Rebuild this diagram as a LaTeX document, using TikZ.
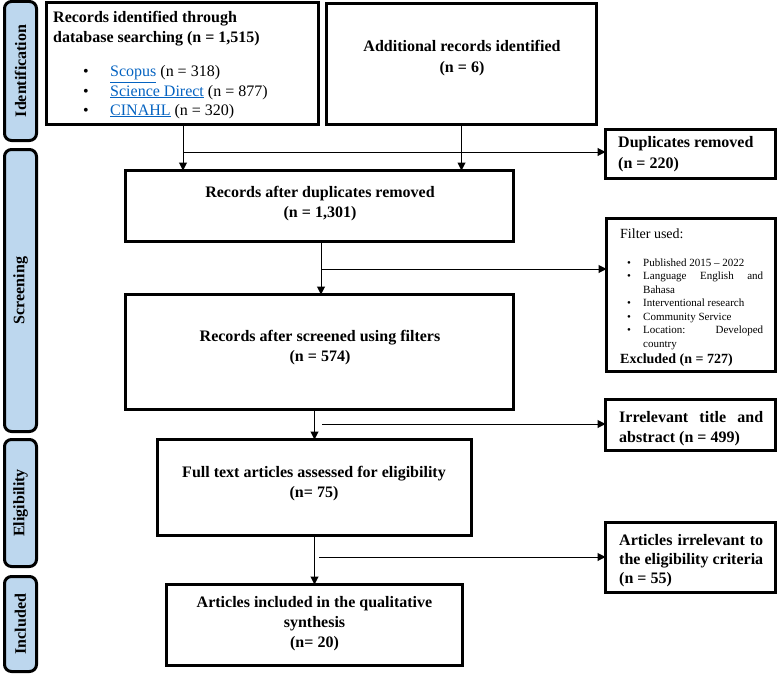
\documentclass[tikz,border=0pt]{standalone}
\usepackage{fontspec}
\setmainfont{Liberation Serif}
\usetikzlibrary{arrows.meta,fit}
\definecolor{sidebl}{RGB}{189,215,238}
\definecolor{linkbl}{RGB}{5,99,193}
\begin{document}
\begin{tikzpicture}[x=1pt,y=-1pt,
  box/.style={draw,line width=3pt,inner sep=0pt,outer sep=0pt,rectangle},
  side/.style={draw,line width=3pt,fill=sidebl,rounded corners=7pt,inner sep=0pt,outer sep=0pt},
  sidetxt/.style={rotate=90,font=\fontsize{16}{20}\selectfont\bfseries,inner sep=0pt},
  arr/.style={line width=1pt,-{Triangle[length=8pt,width=8pt]}},
  bc/.style={font=\fontsize{16}{20}\selectfont\bfseries,inner sep=0pt,anchor=base},
  bl/.style={font=\fontsize{16}{20}\selectfont\bfseries,inner sep=0pt,anchor=base west},
  rl/.style={font=\fontsize{16}{20}\selectfont,inner sep=0pt,anchor=base west},
  rb/.style={font=\fontsize{16}{20}\selectfont,inner sep=0pt,anchor=base},
  sl/.style={font=\fontsize{11}{13}\selectfont,inner sep=0pt,anchor=base west},
  sb/.style={font=\fontsize{11}{13}\selectfont,inner sep=0pt,anchor=base},
]
\useasboundingbox (0,0) rectangle (778,674);

% side labels
\node[side,fit={(4.5,1.5)(36.5,140.5)}] (sid) {};
\node[side,fit={(4.5,149.5)(36.5,431.5)}] (sscr) {};
\node[side,fit={(4.5,439.5)(36.5,566.5)}] (self) {};
\node[side,fit={(4.5,576.5)(36.5,671.5)}] (sinc) {};
\node[sidetxt] (lid) at (sid.center) {Identification};
\node[sidetxt] (lscr) at (sscr.center) {Screening};
\node[sidetxt] (lelf) at (self.center) {Eligibility};
\node[sidetxt] (linc) at (sinc.center) {Included};

% boxes
\node[box,fit={(46.5,2.5)(318.5,124.5)}] (b1) {};
\node[box,fit={(326.5,3.5)(596.5,124.5)}] (b2) {};
\node[box,fit={(605.5,129.5)(775.5,178.5)}] (dup) {};
\node[box,fit={(125.5,170.5)(513.5,241.5)}] (b3) {};
\node[box,fit={(606.5,218.5)(775.5,371.5)}] (filt) {};
\node[box,fit={(125.5,294.5)(513.5,409.5)}] (b4) {};
\node[box,fit={(605.5,399.5)(775.5,450.5)}] (irr) {};
\node[box,fit={(157.5,439.5)(471.5,535.5)}] (b5) {};
\node[box,fit={(605.5,522.5)(775.5,592.5)}] (art) {};
\node[box,fit={(166.5,584.5)(462.5,665.5)}] (b6) {};

% box 1 text
\node[bl] (t11) at (53,23) {Records identified through};
\node[bl] (t12) at (53,43) {database searching (n = 1,515)};
\node[rb] (t13b) at (86,77) {•};
\node[rl] (t13) at (110,77) {{\color{linkbl}\underline{Scopus}} (n = 318)};
\node[rb] (t14b) at (86,96) {•};
\node[rl] (t14) at (110,96) {{\color{linkbl}\underline{Science Direct}} (n = 877)};
\node[rb] (t15b) at (86,115) {•};
\node[rl] (t15) at (110,115) {{\color{linkbl}\underline{CINAHL}} (n = 320)};

% box 2 text
\node[bc] (t21) at (462,52) {Additional records identified};
\node[bc] (t22) at (462,73) {(n = 6)};

% duplicates
\node[bl] (td1) at (618,147) {Duplicates removed};
\node[bl] (td2) at (618,168) {(n = 220)};

% box 3
\node[bc] (t31) at (320,197) {Records after duplicates removed};
\node[bc] (t32) at (320,217) {(n = 1,301)};

% filter box
\node[font=\fontsize{14}{16}\selectfont,inner sep=0pt,anchor=base west] (f0) at (620,238) {Filter used:};
\node[sb] (f1b) at (629,266) {•};
\node[sl] (f1) at (643,266) {Published 2015 – 2022};
\node[sb] (f2b) at (629,279.5) {•};
\node[sl] (f2) at (643,279.5) {\makebox[120pt][s]{Language English and}};
\node[sl] (f3) at (643,293) {Bahasa};
\node[sb] (f4b) at (629,306.5) {•};
\node[sl] (f4) at (643,306.5) {Interventional research};
\node[sb] (f5b) at (629,320) {•};
\node[sl] (f5) at (643,320) {Community Service};
\node[sb] (f6b) at (629,333.5) {•};
\node[sl] (f6) at (643,333.5) {\makebox[120pt][s]{Location: Developed}};
\node[sl] (f7) at (643,347) {country};
\node[font=\fontsize{14}{16}\selectfont\bfseries,inner sep=0pt,anchor=base west] (f8) at (620,363) {Excluded (n = 727)};

% box 4
\node[bc] (t41) at (320,341) {Records after screened using filters};
\node[bc] (t42) at (320,361) {(n = 574)};

% irrelevant title
\node[bl] (ti1) at (619,422) {\makebox[144pt][s]{Irrelevant title and}};
\node[bl] (ti2) at (619,442) {abstract (n = 499)};

% box 5
\node[bc] (t51) at (314,477) {Full text articles assessed for eligibility};
\node[bc] (t52) at (314,497) {(n= 75)};

% articles irrelevant
\node[bl] (ta1) at (619,545) {\makebox[144pt][s]{Articles irrelevant to}};
\node[bl] (ta2) at (619,564) {\makebox[144pt][s]{the eligibility criteria}};
\node[bl] (ta3) at (619,583) {(n = 55)};

% box 6
\node[bc] (t61) at (314.5,607) {Articles included in the qualitative};
\node[bc] (t62) at (314.5,627) {synthesis};
\node[bc] (t63) at (314.5,647) {(n= 20)};

% connectors
\coordinate (j1) at (183,152);
\draw[arr] (b1.south -| j1) -- (b3.north -| j1);
\draw[arr] (j1) -- (dup.west |- j1);
\draw[arr] (b2.south) -- (b3.north -| b2.south);

\coordinate (j2) at (321,269);
\draw[arr] (b3.south -| j2) -- (b4.north -| j2);
\draw[arr] (j2) -- (filt.west |- j2);

\coordinate (j3) at (314.5,424);
\coordinate (s3) at (322,424);
\draw[arr] (b4.south -| j3) -- (b5.north -| j3);
\draw[arr] (s3) -- (irr.west |- s3);

\coordinate (s4) at (319,557);
\draw[arr] (b5.south) -- (b6.north -| b5.south);
\draw[arr] (s4) -- (art.west |- s4);
\end{tikzpicture}
\end{document}
